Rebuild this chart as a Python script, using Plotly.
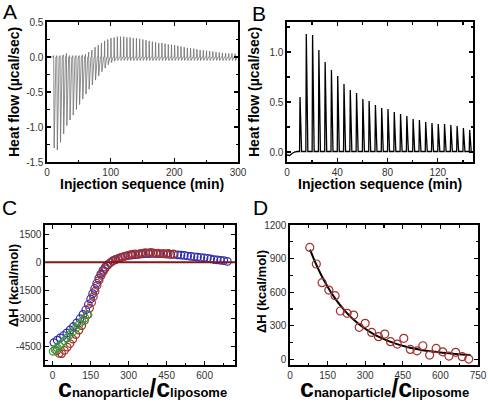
import plotly.graph_objects as go

W, H = 488, 406

# ---------------- Panel A : raw ITC trace ----------------
A_time = [10, 15, 20, 25, 30, 35, 40, 45, 50, 55, 60, 65, 70, 75, 80, 85, 90, 95, 100, 105,
          110, 115, 120, 125, 130, 135, 140, 145, 150, 155, 160, 165, 170, 175, 180, 185, 190, 195,
          200, 205, 210, 215, 220, 225, 230, 235, 240, 245, 250, 255, 260, 265, 270, 275, 280, 285,
          290, 295]
A_up = [0.02, 0.02, 0.02, 0.03, 0.05, 0.02, 0.02, 0.02, 0.02, 0.03, 0.04, 0.07, 0.10, 0.14, 0.17,
        0.20, 0.23, 0.25, 0.27, 0.28, 0.29, 0.29, 0.29, 0.28, 0.28, 0.27, 0.27, 0.26, 0.25, 0.24,
        0.23, 0.22, 0.21, 0.20, 0.20, 0.19, 0.18, 0.175, 0.17, 0.16, 0.15, 0.14, 0.13, 0.125, 0.12,
        0.11, 0.10, 0.095, 0.09, 0.085, 0.08, 0.07, 0.065, 0.06, 0.055, 0.05, 0.05, 0.045]
A_down = [-1.30, -1.33, -1.22, -1.10, -0.98, -0.90, -0.83, -0.75, -0.68, -0.60, -0.53, -0.46,
          -0.40, -0.33, -0.27, -0.21, -0.16, -0.11, -0.08, -0.06, -0.05, -0.05, -0.05, -0.05,
          -0.05, -0.05, -0.05, -0.05, -0.05, -0.05, -0.05, -0.05, -0.05, -0.05, -0.05, -0.05,
          -0.05, -0.05, -0.05, -0.05, -0.05, -0.05, -0.05, -0.05, -0.05, -0.05, -0.05, -0.05,
          -0.05, -0.05, -0.05, -0.05, -0.05, -0.05, -0.05, -0.05, -0.05, -0.05]
A_pre_t = [0, 5]
A_pre_y = [0.0, 0.0]
A_yticks = [-1.5, -1.0, -0.5, 0.0, 0.5]
A_ytext = ['-1.5', '-1.0', '-0.5', '0.0', '0.5']

# ---------------- Panel B : raw ITC trace ----------------
B_time = [10, 15, 20, 25, 30, 35, 40, 45, 50, 55, 60, 65, 70, 75, 80, 85, 90, 95, 100, 105,
          110, 115, 120, 125, 130, 135, 140, 145]
B_peak = [0.55, 1.18, 1.17, 1.02, 0.90, 0.82, 0.76, 0.68, 0.62, 0.59, 0.53, 0.51, 0.47, 0.44,
          0.43, 0.40, 0.38, 0.36, 0.33, 0.32, 0.30, 0.29, 0.28, 0.28, 0.27, 0.26, 0.24, 0.22]
B_pre_t = [0, 2, 4, 6, 8]
B_pre_y = [-0.03, -0.035, -0.015, 0.0, 0.005]

# ---------------- Panel C : integrated heats ----------------
C_blue_x = [5, 18, 30, 43, 56, 69, 82, 95, 108, 120, 131, 141, 150, 158, 166, 174, 182, 190, 199,
            208, 218, 228, 238, 249, 260, 272, 285, 298, 312, 326, 340, 354, 368, 382, 396, 410,
            424, 438, 452, 466, 480, 494, 507, 520, 533, 546, 559, 572, 585, 598, 611, 624, 637,
            650, 663, 676, 690]
C_blue_y = [-4300, -4170, -4050, -3920, -3780, -3620, -3440, -3240, -3020, -2790, -2540, -2260,
            -1960, -1680, -1400, -1120, -860, -630, -430, -260, -120, -10, 90, 160, 220, 270, 320,
            360, 390, 410, 430, 450, 460, 470, 475, 470, 460, 450, 440, 430, 420, 400, 390, 370,
            340, 320, 300, 280, 260, 240, 220, 190, 150, 130, 110, 90, 50]
C_red_x = [16, 26, 36, 47, 58, 69, 80, 92, 104, 115, 126, 137, 146, 154, 161, 168, 176, 184, 192,
           200, 207, 217, 227, 237, 247, 257, 267, 277, 287, 297, 307, 317, 327, 337, 347, 357,
           367, 377, 387, 397, 407, 417, 427, 437, 447, 457, 467, 477]
C_red_y = [-4740, -4880, -4890, -4720, -4540, -4350, -4110, -3870, -3630, -3390, -3110, -2810,
           -2450, -2150, -1840, -1540, -1230, -950, -700, -500, -340, -170, -35, 60, 130, 190, 250,
           300, 340, 380, 420, 440, 460, 430, 480, 500, 520, 490, 530, 510, 480, 500, 460, 470,
           450, 480, 430, 450]
C_green_x = [2, 10, 18, 27, 36, 46, 57, 68, 80, 92, 104, 116, 128, 140]
C_green_y = [-4770, -4680, -4580, -4470, -4350, -4200, -4050, -3880, -3700, -3520, -3340, -3160,
             -2980, -2810]
C_yticks = [-4500, -3000, -1500, 0, 1500]
C_ytext = ['-4500', '-3000', '-1500', '0', '1500']

# ---------------- Panel D : single series + fit ----------------
D_x = [79, 105, 128, 155, 180, 201, 228, 254, 276, 300, 326, 353, 378, 401, 428, 454, 480, 507,
       530, 557, 583, 609, 634, 661, 687, 713]
D_y = [1000, 852, 685, 619, 569, 432, 411, 396, 286, 322, 241, 203, 226, 158, 137, 188, 89, 77,
       122, 39, 98, 68, 30, 63, 24, 3]
D_fit_x = [80, 100, 125, 150, 175, 200, 230, 260, 290, 330, 370, 410, 460, 510, 560, 610, 660, 720]
D_fit_y = [981, 871, 751, 649, 560, 484, 407, 343, 289, 231, 186, 150, 116, 91, 72, 59, 49, 40]

FONT = "Liberation Sans, Arial, sans-serif"
BLUE = "#2b2bb0"
RED = "#a3302c"
GREEN = "#3a9a3a"


def px(x):
    return x / W


def py(y):
    return 1 - y / H


# build trace paths from the injection arrays
ax, ay = list(A_pre_t), list(A_pre_y)
for t, up, dn in zip(A_time, A_up, A_down):
    ax += [t, t + 0.5, t + 1.2, t + 4.0]
    ay += [0.0, up, dn, 0.0]

bx, by = list(B_pre_t), list(B_pre_y)
for t, p in zip(B_time, B_peak):
    bx += [t, t + 0.35, t + 1.6]
    by += [0.005, p, 0.005]

fig = go.Figure()
fig.add_trace(go.Scatter(x=ax, y=ay, mode="lines", line=dict(color="#707070", width=0.8),
                         xaxis="x", yaxis="y", hoverinfo="skip"))
fig.add_trace(go.Scatter(x=bx, y=by, mode="lines", line=dict(color="black", width=1.3),
                         xaxis="x2", yaxis="y2", hoverinfo="skip"))

mk = dict(symbol="circle-open", size=7.5)
fig.add_trace(go.Scatter(x=C_blue_x, y=C_blue_y, mode="markers", xaxis="x3", yaxis="y3",
                         marker=dict(**mk, color=BLUE, line=dict(width=1.2, color=BLUE))))
fig.add_trace(go.Scatter(x=C_red_x, y=C_red_y, mode="markers", xaxis="x3", yaxis="y3",
                         marker=dict(**mk, color=RED, line=dict(width=1.2, color=RED))))
fig.add_trace(go.Scatter(x=C_green_x, y=C_green_y, mode="markers", xaxis="x3", yaxis="y3",
                         marker=dict(**mk, color=GREEN, line=dict(width=1.2, color=GREEN))))

fig.add_trace(go.Scatter(x=D_fit_x, y=D_fit_y, mode="lines", xaxis="x4", yaxis="y4",
                         line=dict(color="black", width=2, shape="spline")))
fig.add_trace(go.Scatter(x=D_x, y=D_y, mode="markers", xaxis="x4", yaxis="y4",
                         marker=dict(symbol="circle-open", size=8, color=RED,
                                     line=dict(width=1.2, color=RED))))


def axstyle(**kw):
    d = dict(showline=True, linecolor="black", linewidth=1.6, mirror="ticks",
             ticks="inside", ticklen=4, tickwidth=1.3, tickcolor="black",
             showgrid=False, zeroline=False, automargin=False,
             tickfont=dict(family=FONT, size=10, color="#333333"))
    d.update(kw)
    return d


fig.update_layout(
    width=W, height=H, margin=dict(l=0, r=0, t=0, b=0, pad=0), autosize=False,
    paper_bgcolor="white", plot_bgcolor="white", showlegend=False,
    font=dict(family=FONT, color="#333333"),
    xaxis=axstyle(domain=[px(47), px(238)], range=[0, 300], anchor="y",
                  tickvals=[0, 100, 200, 300],
                  minor=dict(ticks="inside", ticklen=2.5, tickmode="linear", tick0=0, dtick=50)),
    yaxis=axstyle(domain=[py(162), py(22)], range=[-1.5, 0.5], anchor="x",
                  tickmode="array", tickvals=A_yticks, ticktext=A_ytext,
                  minor=dict(ticks="inside", ticklen=2.5, tickmode="linear", tick0=0, dtick=0.25)),
    xaxis2=axstyle(domain=[px(287), px(473)], range=[0, 148], anchor="y2",
                   tickvals=[0, 40, 80, 120],
                   minor=dict(ticks="inside", ticklen=2.5, tickmode="linear", tick0=0, dtick=20)),
    yaxis2=axstyle(domain=[py(162), py(22)], range=[-0.1, 1.3], anchor="x2",
                   tickvals=[0, 0.5, 1.0], tickformat=".1f",
                   minor=dict(ticks="inside", ticklen=2.5, tickmode="linear", tick0=0, dtick=0.25)),
    xaxis3=axstyle(domain=[px(45), px(235)], range=[-30, 720], anchor="y3",
                   tickvals=[0, 150, 300, 450, 600],
                   minor=dict(ticks="inside", ticklen=2.5, tickmode="linear", tick0=0, dtick=75)),
    yaxis3=axstyle(domain=[py(365), py(225)], range=[-5500, 2000], anchor="x3",
                   tickmode="array", tickvals=C_yticks, ticktext=C_ytext,
                   minor=dict(ticks="inside", ticklen=2.5, tickmode="linear", tick0=0, dtick=750)),
    xaxis4=axstyle(domain=[px(290), px(478)], range=[0, 750], anchor="y4",
                   tickvals=[0, 150, 300, 450, 600, 750],
                   minor=dict(ticks="inside", ticklen=2.5, tickmode="linear", tick0=0, dtick=75)),
    yaxis4=axstyle(domain=[py(365), py(225)], range=[-50, 1200], anchor="x4",
                   tickvals=[0, 300, 600, 900, 1200],
                   minor=dict(ticks="inside", ticklen=2.5, tickmode="linear", tick0=0, dtick=150)),
)

fig.add_shape(type="line", xref="x3 domain", yref="y3", x0=0, x1=1, y0=0, y1=0,
              line=dict(color="#8b1414", width=2), layer="above")

ann = []


def text(x, y, s, size, angle=0, bold=True, xa="center", ya="middle"):
    ann.append(dict(x=px(x), y=py(y), xref="paper", yref="paper", showarrow=False,
                    text=("<b>%s</b>" % s) if bold else s, textangle=angle,
                    xanchor=xa, yanchor=ya, borderpad=0,
                    font=dict(family=FONT, size=size, color="black")))


# panel letters
text(10, 12, "A", 21, bold=False)
text(259, 13, "B", 21, bold=False)
text(9, 207, "C", 21, bold=False)
text(260, 207, "D", 21, bold=False)

# axis titles
text(142, 184, "Injection sequence (min)", 14)
text(380, 184, "Injection sequence (min)", 14)
text(14, 92, "Heat flow (µcal/sec)", 14, angle=-90)
text(254, 92, "Heat flow (µcal/sec)", 14, angle=-90)
text(13, 286, "ΔH (kcal/mol)", 13, angle=-90)
text(261, 292, "ΔH (kcal/mol)", 13, angle=-90)
ctitle = ("c<span style='font-size:13px'>nanoparticle</span>/c"
          "<span style='font-size:13px'>liposome</span>")
text(142, 388, ctitle, 25)
text(384, 388, ctitle, 25)

fig.update_layout(annotations=ann)
# remove the browser's default page margin so the 488x406 figure fills the window exactly
fig.write_html("out.html",
               config={"displayModeBar": False, "staticPlot": True},
               post_script="document.body.style.margin='0';"
                           "document.body.style.overflow='hidden';")
